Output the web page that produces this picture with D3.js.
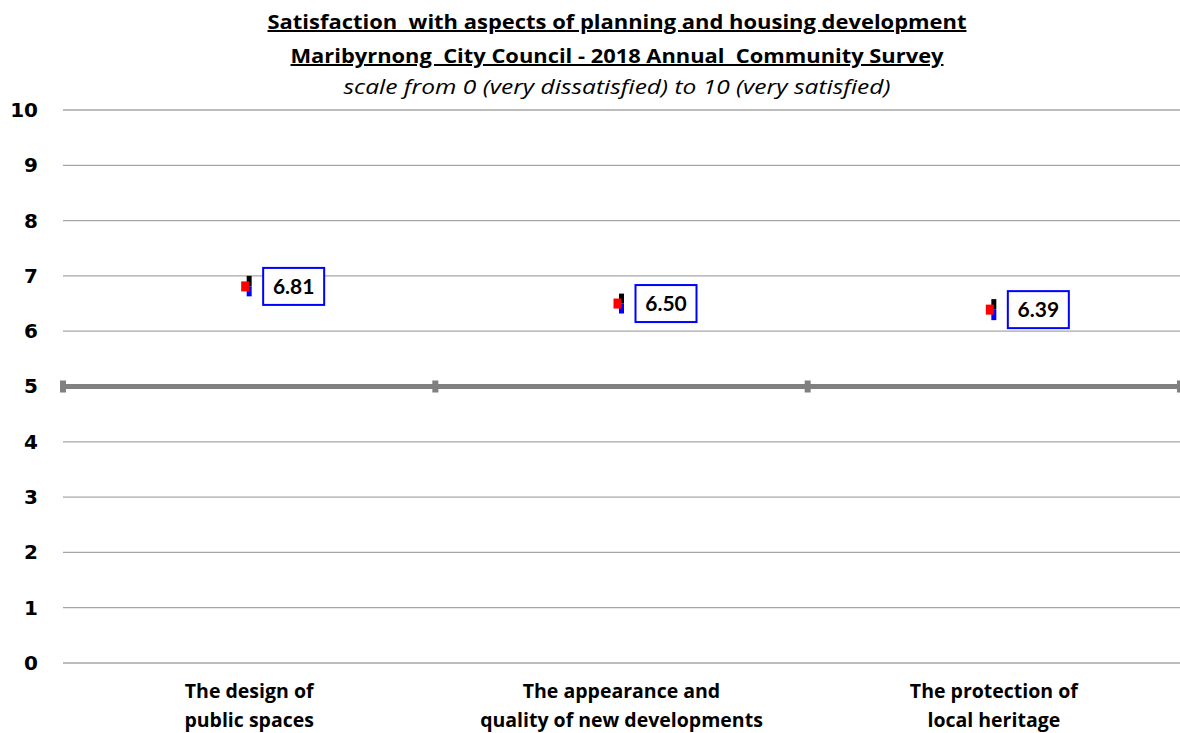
<!DOCTYPE html>
<html>
<head>
<meta charset="utf-8">
<script src="https://cdn.jsdelivr.net/npm/d3@7"></script>
<style>
  html, body { margin: 0; padding: 0; background: #fff; }
  svg { display: block; font-family: "Open Sans", Lato, sans-serif; }
</style>
</head>
<body>
<svg id="chart" width="1180" height="733"></svg>
<script>
// Survey results: mean satisfaction with 95% confidence bounds
const categories = [
  ["The design of", "public spaces"],
  ["The appearance and", "quality of new developments"],
  ["The protection of", "local heritage"]
];
const means = [6.81, 6.50, 6.39];
const upper = [7.00, 6.68, 6.58];
const lower = [6.63, 6.32, 6.20];
const yTicks = [0, 1, 2, 3, 4, 5, 6, 7, 8, 9, 10];
const titleLines = [
  "Satisfaction  with aspects of planning and housing development",
  "Maribyrnong  City Council - 2018 Annual  Community Survey"
];
const subtitle = "scale from 0 (very dissatisfied) to 10 (very satisfied)";
const referenceValue = 5;

const svg = d3.select("#chart");
const plotLeft = 63, plotRight = 1180, plotTop = 110, plotBottom = 663;

const x = d3.scaleBand().domain(d3.range(categories.length)).range([plotLeft, plotRight]);
const y = d3.scaleLinear().domain([0, 10]).range([plotBottom, plotTop]);

// Titles
const tl = svg.append("g").attr("text-anchor", "middle").attr("fill", "#000");
const titleWidths = [699, 653];
titleLines.forEach((t, i) => {
  tl.append("text")
    .attr("x", 617).attr("y", 29 + i * 34)
    .attr("font-size", 20).attr("font-weight", "bold")
    .attr("text-decoration", "underline")
    .attr("textLength", titleWidths[i]).attr("lengthAdjust", "spacingAndGlyphs")
    .style("white-space", "pre")
    .text(t);
});
tl.append("text")
  .attr("x", 617).attr("y", 94)
  .attr("font-size", 20).attr("font-style", "italic")
  .attr("textLength", 547).attr("lengthAdjust", "spacingAndGlyphs")
  .text(subtitle);

// Horizontal gridlines
svg.append("g").selectAll("line").data(yTicks.filter(v => v !== referenceValue)).join("line")
  .attr("x1", plotLeft).attr("x2", plotRight)
  .attr("y1", d => y(d)).attr("y2", d => y(d))
  .attr("stroke", "#a6a6a6").attr("stroke-width", 1.3);

// Y axis labels
const yAxis = d3.axisLeft(y).tickValues(yTicks).tickSize(0).tickPadding(0).tickFormat(d3.format("d"));
const ya = svg.append("g").attr("transform", "translate(38,0)").call(yAxis);
ya.select(".domain").remove();
ya.selectAll("text").attr("font-size", 20).attr("font-weight", "bold")
  .attr("font-family", "'DejaVu Sans', Verdana, sans-serif").attr("fill", "#000");

// Reference line at the scale midpoint, with category-boundary ticks
const refY = y(referenceValue);
svg.append("line")
  .attr("x1", plotLeft).attr("x2", plotRight).attr("y1", refY).attr("y2", refY)
  .attr("stroke", "#808080").attr("stroke-width", 5);
const boundaries = x.domain().map(i => x(i)).concat([plotRight]);
svg.append("g").selectAll("rect").data(boundaries).join("rect")
  .attr("x", d => d - 3)
  .attr("width", 6)
  .attr("y", refY - 6).attr("height", 12)
  .attr("fill", "#808080");

// X axis labels
const xl = svg.append("g").attr("text-anchor", "middle");
categories.forEach((lines, i) => {
  const cx = x(i) + x.bandwidth() / 2;
  lines.forEach((t, j) => {
    xl.append("text").attr("x", cx).attr("y", 698 + j * 29)
      .attr("font-size", 19.5).attr("font-weight", "bold").text(t);
  });
});

// Markers: upper half black, lower half blue, red square at the mean
const pts = means.map((m, i) => ({ m, hi: upper[i], lo: lower[i], i }));
const g = svg.append("g");
pts.forEach(p => {
  const cx = x(p.i) + x.bandwidth() / 2;
  g.append("rect").attr("x", cx - 2.5).attr("width", 5)
    .attr("y", y(p.hi)).attr("height", y(p.m) - y(p.hi)).attr("fill", "#000");
  g.append("rect").attr("x", cx - 2.5).attr("width", 5)
    .attr("y", y(p.m)).attr("height", y(p.lo) - y(p.m)).attr("fill", "#0000ff");
  g.append("rect").attr("x", cx - 8).attr("width", 8)
    .attr("y", y(p.m) - 5).attr("height", 10).attr("fill", "#ff0000");

  // Value label box
  const bx = cx + 14, bw = 61, bh = 37;
  g.append("rect").attr("x", bx).attr("y", y(p.m) - bh / 2)
    .attr("width", bw).attr("height", bh)
    .attr("fill", "#fff").attr("stroke", "#0000ff").attr("stroke-width", 2);
  g.append("text").attr("x", bx + bw / 2).attr("y", y(p.m) + 7.5)
    .attr("text-anchor", "middle").attr("font-size", 21).attr("font-weight", "bold")
    .attr("font-family", "Lato, 'Open Sans', sans-serif")
    .text(p.m.toFixed(2));
});
</script>
</body>
</html>
